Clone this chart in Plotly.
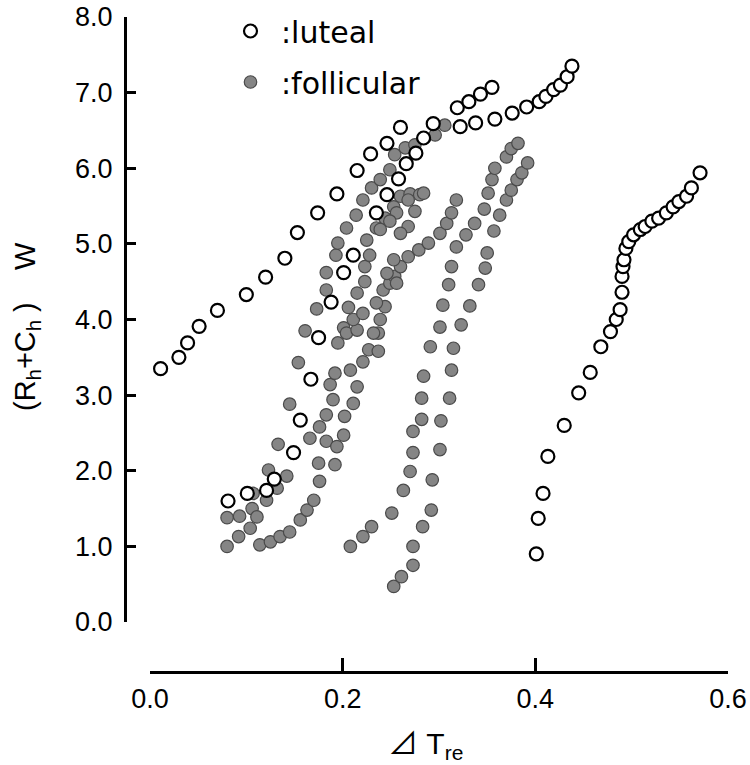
import plotly.graph_objects as go

# ---- luteal (open circles) ----
luteal_1_x = [0.011,0.030,0.039,0.051,0.070,0.100,0.120,0.140,0.153,0.174,0.194,0.215,0.229,0.246,0.260,0.294,0.322,0.338,0.358,0.376,0.391,0.404,0.411,0.419,0.426,0.433,0.438]
luteal_1_y = [3.35,3.50,3.69,3.91,4.12,4.33,4.56,4.81,5.15,5.41,5.66,5.97,6.19,6.33,6.54,6.59,6.55,6.60,6.65,6.73,6.81,6.88,6.95,7.04,7.10,7.21,7.35]
luteal_2_x = [0.081,0.101,0.121,0.129,0.149,0.156,0.167,0.175,0.188,0.201,0.211,0.235,0.246,0.258,0.266,0.276,0.284,0.319,0.331,0.343,0.355]
luteal_2_y = [1.60,1.70,1.74,1.89,2.24,2.67,3.21,3.76,4.23,4.62,4.85,5.41,5.65,5.86,6.06,6.20,6.40,6.80,6.88,6.98,7.07]
luteal_3_x = [0.401,0.403,0.408,0.413,0.430,0.445,0.457,0.468,0.478,0.484,0.488,0.490,0.490,0.491,0.492,0.494,0.497,0.502,0.509,0.514,0.521,0.528,0.536,0.543,0.549,0.557,0.562,0.571]
luteal_3_y = [0.90,1.37,1.70,2.19,2.60,3.03,3.30,3.64,3.84,4.00,4.13,4.36,4.57,4.70,4.79,4.94,5.03,5.12,5.19,5.23,5.30,5.34,5.41,5.49,5.56,5.63,5.74,5.94]

# ---- follicular (filled grey circles) ----
foll_a_x = [0.080,0.093,0.106,0.107,0.123,0.133,0.145,0.154,0.161,0.173,0.183,0.183,0.193,0.195,0.204,0.214,0.221,0.230,0.239,0.249,0.254,0.265,0.275,0.285,0.296,0.306]
foll_a_y = [1.38,1.40,1.50,1.70,2.01,2.35,2.88,3.43,3.85,4.14,4.39,4.62,4.85,5.01,5.21,5.38,5.58,5.74,5.85,5.98,6.18,6.27,6.31,6.40,6.44,6.57]
foll_b_x = [0.080,0.092,0.104,0.111,0.121,0.132,0.142,0.166,0.176,0.183,0.190,0.187,0.192,0.195,0.201,0.206,0.215,0.223,0.223,0.228,0.225,0.235,0.244,0.253,0.260,0.270,0.280]
foll_b_y = [1.00,1.13,1.24,1.39,1.61,1.77,1.93,2.43,2.58,2.74,2.94,3.14,3.29,3.69,3.89,4.16,4.35,4.50,4.70,4.85,5.05,5.21,5.34,5.49,5.63,5.66,5.65]
foll_c_x = [0.114,0.125,0.135,0.145,0.156,0.163,0.170,0.176,0.175,0.192,0.183,0.194,0.201,0.202,0.211,0.215,0.208,0.221,0.227,0.237,0.237,0.239,0.244,0.242,0.249,0.254,0.260,0.268,0.279,0.289,0.301,0.308,0.313,0.318]
foll_c_y = [1.02,1.06,1.13,1.19,1.35,1.48,1.61,1.86,2.10,2.08,2.39,2.32,2.47,2.72,2.89,3.11,3.33,3.44,3.60,3.58,3.82,4.00,4.17,4.39,4.48,4.57,4.70,4.83,4.92,5.01,5.14,5.27,5.41,5.58]
foll_d_x = [0.208,0.221,0.230,0.251,0.263,0.270,0.273,0.273,0.282,0.282,0.284,0.291,0.301,0.304,0.310,0.313,0.318,0.328,0.337,0.347,0.351,0.355,0.358,0.370,0.375,0.382]
foll_d_y = [1.00,1.13,1.26,1.44,1.74,1.99,2.24,2.52,2.68,2.96,3.25,3.64,3.90,4.19,4.46,4.70,4.96,5.12,5.27,5.46,5.67,5.85,6.00,6.15,6.26,6.33]
foll_e_x = [0.253,0.261,0.273,0.273,0.283,0.292,0.293,0.301,0.302,0.311,0.313,0.315,0.323,0.332,0.341,0.348,0.350,0.357,0.363,0.370,0.375,0.381,0.386,0.392]
foll_e_y = [0.47,0.60,0.75,1.00,1.26,1.48,1.88,2.28,2.66,2.96,3.33,3.62,3.93,4.18,4.46,4.68,4.88,5.17,5.38,5.58,5.71,5.85,5.94,6.07]
foll_f_x = [0.204,0.215,0.211,0.221,0.235,0.232,0.246,0.253,0.256,0.268,0.275,0.268,0.260,0.256,0.249,0.239,0.284]
foll_f_y = [3.82,3.86,4.00,4.08,4.22,3.82,4.61,4.79,4.48,5.58,5.43,5.23,5.14,5.41,5.30,5.19,5.67]

x_ticks = [0.0, 0.2, 0.4, 0.6]
x_tick_text = ["0.0", "0.2", "0.4", "0.6"]
y_ticks = [0, 1, 2, 3, 4, 5, 6, 7, 8]
y_tick_text = ["0.0", "1.0", "2.0", "3.0", "4.0", "5.0", "6.0", "7.0", "8.0"]

luteal_x = luteal_1_x + luteal_2_x + luteal_3_x
luteal_y = luteal_1_y + luteal_2_y + luteal_3_y
foll_x = foll_a_x + foll_b_x + foll_c_x + foll_d_x + foll_e_x + foll_f_x
foll_y = foll_a_y + foll_b_y + foll_c_y + foll_d_y + foll_e_y + foll_f_y

fig = go.Figure()
fig.add_trace(go.Scatter(
    x=foll_x, y=foll_y, mode="markers", name=":follicular",
    legendrank=2, legendgroup="f",
    marker=dict(symbol="circle", size=12.5, color="#858585",
                line=dict(color="#4a4a4a", width=1.2)),
))
fig.add_trace(go.Scatter(
    x=luteal_x, y=luteal_y, mode="markers", name=":luteal",
    legendrank=1, legendgroup="l",
    marker=dict(symbol="circle", size=13, color="white",
                line=dict(color="black", width=2.2)),
))

L, R, T, B = 125, 22, 17, 93
W, H = 750, 765
pw, ph = W - L - R, H - T - B

tick_font = dict(family="Liberation Sans, Arial, sans-serif", size=27, color="black")
sp = "\u00a0"

fig.update_layout(
    width=W, height=H,
    margin=dict(l=L, r=R, t=T, b=B, pad=0, autoexpand=False),
    paper_bgcolor="white", plot_bgcolor="white",
    showlegend=True,
    legend=dict(
        x=(220 - L) / pw, y=1 + 12 / ph, xanchor="left", yanchor="top",
        font=dict(family="DejaVu Sans, Verdana, sans-serif", size=30, color="black"),
        bgcolor="rgba(0,0,0,0)", borderwidth=0,
        tracegroupgap=9, itemwidth=51,
    ),
    xaxis=dict(
        range=[0, 0.6], domain=[25 / pw, 1], anchor="free", position=0,
        showline=True, linecolor="black", linewidth=3,
        ticks="inside", ticklen=13, tickwidth=3, tickcolor="black",
        tickvals=x_ticks, ticktext=x_tick_text, tickfont=tick_font,
        ticklabelstandoff=2, automargin=False,
        showgrid=False, zeroline=False,
    ),
    yaxis=dict(
        range=[0, 8], domain=[50 / ph, 1], anchor="free", position=0,
        showline=True, linecolor="black", linewidth=3,
        ticks="inside", ticklen=9, tickwidth=3, tickcolor="black",
        tickvals=y_ticks, ticktext=y_tick_text, tickfont=tick_font,
        ticklabelstandoff=6, automargin=False,
        showgrid=False, zeroline=False,
    ),
    annotations=[
        dict(text="(R<sub>h</sub>+C<sub>h</sub>" + sp + ")" + sp * 4 + "W",
             xref="paper", yref="paper",
             x=(27 - L) / pw, y=(H - B - 327) / ph, textangle=-90,
             showarrow=False, xanchor="center", yanchor="middle",
             font=dict(family="Liberation Sans, Arial, sans-serif", size=29, color="black")),
        dict(text="⊿" + sp + "T<sub>re</sub>", xref="paper", yref="paper",
             x=(425 - L) / pw, y=(H - B - 745) / ph,
             showarrow=False, xanchor="center", yanchor="middle",
             font=dict(family="Liberation Sans, Noto Sans CJK JP, sans-serif", size=30, color="black")),
    ],
)

fig.write_html("out.html", config={"displayModeBar": False},
               post_script="document.body.style.margin='0px';")
